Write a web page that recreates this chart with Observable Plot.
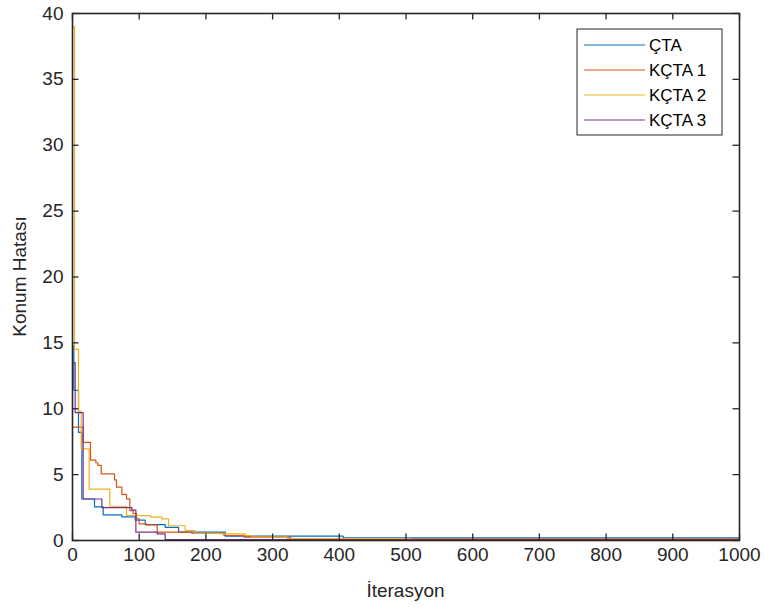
<!DOCTYPE html>
<html>
<head>
<meta charset="utf-8">
<script src="https://cdn.jsdelivr.net/npm/d3@7"></script>
<script src="https://cdn.jsdelivr.net/npm/@observablehq/plot@0.6"></script>
<style>
  html, body { margin: 0; padding: 0; background: #fff; }
  #chart { position: relative; width: 764px; height: 607px; }
</style>
</head>
<body>
<div id="chart"></div>
<script>
// ---- data ----
const seriesNames = ["ÇTA", "KÇTA 1", "KÇTA 2", "KÇTA 3"];
const seriesColors = ["#0072BD", "#D95319", "#EDB120", "#7E2F8E"];

const ctaIter = [1, 2, 9, 14, 33, 46, 74, 94, 109, 139, 159, 229, 406, 1000];
const ctaVal  = [14.8, 11.4, 8.2, 3.15, 2.55, 1.95, 1.8, 1.55, 1.2, 1.0, 0.63, 0.33, 0.2, 0.2];

const k1Iter = [1, 16, 27, 35, 38, 43, 63, 66, 74, 81, 86, 91, 96, 100, 111, 127, 179, 227, 257, 327, 1000];
const k1Val  = [8.6, 7.45, 6.1, 5.9, 5.7, 5.05, 4.6, 4.05, 3.5, 3.16, 2.27, 2.05, 1.64, 1.26, 1.19, 0.63, 0.55, 0.38, 0.25, 0.13, 0.13];

const k2Iter = [1, 3, 9, 13, 25, 56, 81, 117, 134, 144, 169, 184, 222, 259, 269, 322, 507, 1000];
const k2Val  = [39, 14.5, 9.8, 6.95, 3.9, 2.6, 1.89, 1.77, 1.64, 1.12, 0.76, 0.55, 0.5, 0.38, 0.25, 0.15, 0.09, 0.09];

const k3Iter = [1, 4, 16, 44, 89, 95, 127, 139, 1000];
const k3Val  = [13.5, 9.7, 3.15, 2.5, 2.3, 0.63, 0.5, 0.07, 0.06];

const xTicks = [0, 100, 200, 300, 400, 500, 600, 700, 800, 900, 1000];
const yTicks = [0, 5, 10, 15, 20, 25, 30, 35, 40];

// ---- build table ----
const iters = [ctaIter, k1Iter, k2Iter, k3Iter];
const vals = [ctaVal, k1Val, k2Val, k3Val];
const rows = [];
seriesNames.forEach((name, s) => {
  iters[s].forEach((it, i) => rows.push({series: name, iter: it, val: vals[s][i]}));
});

const W = 764, H = 607;
const mL = 72, mR = 25, mT = 13, mB = 67;
const ink = "#262626";
const font = "'Liberation Sans', Arial, Helvetica, sans-serif";
const tickPx = 6.5;
const tickLenX = tickPx * 1000 / (W - mL - mR);
const tickLenY = tickPx * 40 / (H - mT - mB);

const plot = Plot.plot({
  width: W,
  height: H,
  marginLeft: mL,
  marginRight: mR,
  marginTop: mT,
  marginBottom: mB,
  style: {fontSize: "19px", color: ink, background: "white", fontFamily: font},
  x: {domain: [0, 1000]},
  y: {domain: [0, 40]},
  color: {domain: seriesNames, range: seriesColors},
  marks: [
    Plot.line(rows, {x: "iter", y: "val", z: "series", stroke: "series", curve: "step-after", strokeWidth: 1.2}),
    // inward ticks (bottom, top, left, right)
    Plot.ruleX(xTicks, {x: d => d, y1: 0, y2: tickLenY, stroke: ink, strokeWidth: 1.3}),
    Plot.ruleX(xTicks, {x: d => d, y1: 40, y2: 40 - tickLenY, stroke: ink, strokeWidth: 1.3}),
    Plot.ruleY(yTicks, {y: d => d, x1: 0, x2: tickLenX, stroke: ink, strokeWidth: 1.3}),
    Plot.ruleY(yTicks, {y: d => d, x1: 1000, x2: 1000 - tickLenX, stroke: ink, strokeWidth: 1.3}),
    Plot.axisX(xTicks, {tickSize: 0, tickPadding: 7, tickFormat: d => String(d), label: null, fontSize: 19}),
    Plot.axisY(yTicks, {tickSize: 0, tickPadding: 9, tickFormat: d => String(d), label: null, fontSize: 19}),
    Plot.frame({stroke: ink, strokeWidth: 1.6})
  ]
});

document.getElementById("chart").appendChild(plot);

const svg = d3.select(plot);

// ---- axis titles ----
svg.append("text")
  .attr("x", (mL + W - mR) / 2).attr("y", 597)
  .attr("text-anchor", "middle").attr("font-size", 19).attr("fill", ink)
  .attr("font-family", font)
  .text("İterasyon");
svg.append("text")
  .attr("transform", `translate(26,${(mT + H - mB) / 2}) rotate(-90)`)
  .attr("text-anchor", "middle").attr("font-size", 19).attr("fill", ink)
  .attr("font-family", font)
  .text("Konum Hatası");

// ---- legend (inside the axes, top right) ----
const lg = svg.append("g").attr("font-size", 17).attr("fill", "#000").attr("font-family", font);
const lx = 577, ly = 29, lw = 145, lh = 106;
lg.append("rect").attr("x", lx).attr("y", ly).attr("width", lw).attr("height", lh)
  .attr("fill", "white").attr("stroke", ink).attr("stroke-width", 1);
seriesNames.forEach((name, i) => {
  const yy = 45 + 25 * i;
  lg.append("line").attr("x1", 584).attr("x2", 645).attr("y1", yy).attr("y2", yy)
    .attr("stroke", seriesColors[i]).attr("stroke-width", 1.2);
  lg.append("text").attr("x", 649).attr("y", yy).attr("dy", "0.36em")
    .attr("text-anchor", "start").text(name);
});
</script>
</body>
</html>
